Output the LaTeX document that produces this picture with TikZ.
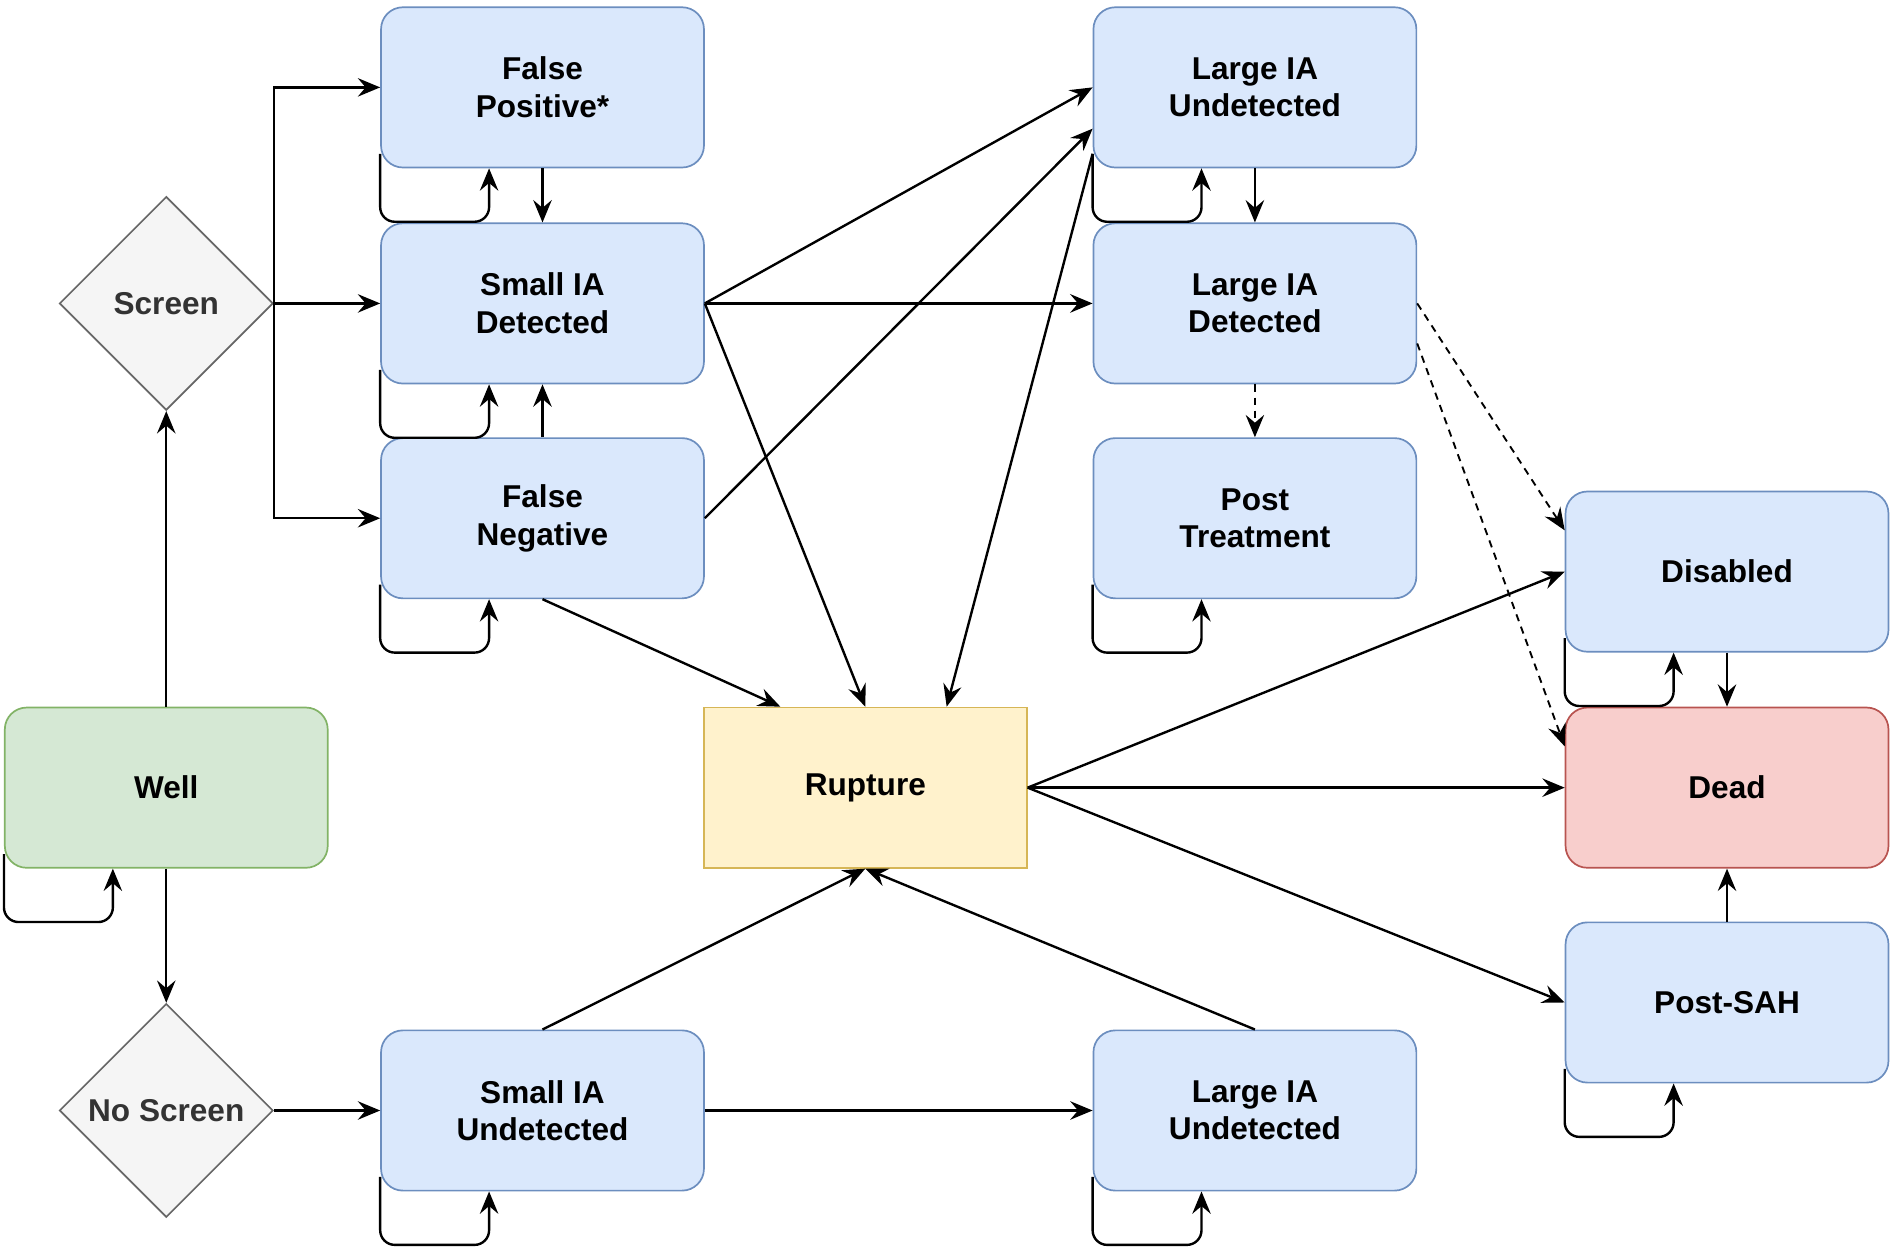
\documentclass[tikz,border=0pt]{standalone}
\usepackage{fontspec}
\setmainfont{Liberation Sans}
\usetikzlibrary{shapes.geometric,arrows.meta}

\definecolor{blueFill}{HTML}{DAE8FC}
\definecolor{blueLine}{HTML}{6C8EBF}
\definecolor{greenFill}{HTML}{D5E8D4}
\definecolor{greenLine}{HTML}{82B366}
\definecolor{redFill}{HTML}{F8CECC}
\definecolor{redLine}{HTML}{B85450}
\definecolor{yellowFill}{HTML}{FFF2CC}
\definecolor{yellowLine}{HTML}{D6B656}
\definecolor{grayFill}{HTML}{F5F5F5}
\definecolor{grayLine}{HTML}{666666}
\definecolor{grayText}{HTML}{333333}

\begin{document}
\begin{tikzpicture}[x=0.025cm, y=-0.025cm,
  state/.style={draw=blueLine, fill=blueFill, rounded corners=4.5mm, line width=1pt,
    minimum width=6.65cm, minimum height=3.3cm, align=center,
    font=\fontsize{18.5}{22}\selectfont\bfseries},
  choice/.style={diamond, draw=grayLine, fill=grayFill, text=grayText, line width=1pt,
    minimum width=4.4cm, minimum height=4.4cm, inner sep=0pt,
    font=\fontsize{18.5}{22}\selectfont\bfseries},
  arr/.style={-{Stealth[length=4.6mm,width=3.8mm,inset=1.6mm]}, line width=1.4pt},
  maybe/.style={arr, line width=1.1pt, dash pattern=on 1.5mm off 1.2mm},
  selfloop/.style={arr, rounded corners=3mm}]
  \useasboundingbox (0,0) rectangle (1568,1032);

  % states
  \node[state, draw=greenLine, fill=greenFill] (well) at (137,649) {Well};
  \node[choice] (screen) at (137,250) {Screen};
  \node[choice] (noscreen) at (137,915) {No Screen};

  \node[state] (fp)  at (447,72)  {False\\Positive*};
  \node[state] (sid) at (447,250) {Small IA\\Detected};
  \node[state] (fn)  at (447,427) {False\\Negative};
  \node[state] (siu) at (447,915) {Small IA\\Undetected};

  \node[state] (lut) at (1034,72)  {Large IA\\Undetected};
  \node[state] (lid) at (1034,250) {Large IA\\Detected};
  \node[state] (pt)  at (1034,427) {Post\\Treatment};
  \node[state] (lub) at (1034,915) {Large IA\\Undetected};

  \node[state, rounded corners=0pt, draw=yellowLine, fill=yellowFill] (rup) at (713,649) {Rupture};

  \node[state] (dis)  at (1423,471) {Disabled};
  \node[state, draw=redLine, fill=redFill] (dead) at (1423,649) {Dead};
  \node[state] (psah) at (1423,826) {Post-SAH};

  % screening branch
  \draw[arr] (well.north) -- (screen.south);
  \draw[arr] (well.south) -- (noscreen.north);
  \draw[arr] (screen.east) |- (fp.west);
  \draw[arr] (screen.east) -- (sid.west);
  \draw[arr] (screen.east) |- (fn.west);
  \draw[arr] (noscreen.east) -- (siu.west);

  \draw[arr] (fp.south) -- (sid.north);
  \draw[arr] (fn.north) -- (sid.south);
  \draw[arr, line width=2pt] (sid.east) -- (lid.west);
  \draw[arr] (sid.east) -- (lut.west);
  \draw[arr] (fn.east) -- ([yshift=-8.5mm]lut.west);
  \draw[arr] (lut.south) -- (lid.north);
  \draw[arr] (siu.east) -- (lub.west);

  % into rupture
  \draw[arr] (sid.east) -- (rup.north);
  \draw[arr] ([yshift=3mm]lut.south west) -- ([xshift=16.75mm]rup.north);
  \draw[arr] (fn.south) -- ([xshift=-17.5mm]rup.north);
  \draw[arr] (siu.north) -- (rup.south);
  \draw[arr] (lub.north) -- (rup.south);

  % treatment and outcomes
  \draw[maybe] (lid.south) -- (pt.north);
  \draw[maybe] (lid.east) -- ([yshift=8.5mm]dis.west);
  \draw[maybe] ([yshift=-8.25mm]lid.east) -- ([yshift=8.5mm]dead.west);
  \draw[arr] (rup.east) -- (dis.west);
  \draw[arr] (rup.east) -- (dead.west);
  \draw[arr] (rup.east) -- (psah.west);
  \draw[arr] (dis.south) -- (dead.north);
  \draw[arr] (psah.north) -- (dead.south);

  % stay in the same state
  \draw[selfloop] ([yshift=3mm]well.south west) |- ([xshift=-11mm,yshift=-11mm]well.south) -- ([xshift=-11mm]well.south);
  \draw[selfloop] ([yshift=3mm]fp.south west) |- ([xshift=-11mm,yshift=-11mm]fp.south) -- ([xshift=-11mm]fp.south);
  \draw[selfloop] ([yshift=3mm]sid.south west) |- ([xshift=-11mm,yshift=-11mm]sid.south) -- ([xshift=-11mm]sid.south);
  \draw[selfloop] ([yshift=3mm]fn.south west) |- ([xshift=-11mm,yshift=-11mm]fn.south) -- ([xshift=-11mm]fn.south);
  \draw[selfloop] ([yshift=3mm]siu.south west) |- ([xshift=-11mm,yshift=-11mm]siu.south) -- ([xshift=-11mm]siu.south);
  \draw[selfloop] ([yshift=3mm]lut.south west) |- ([xshift=-11mm,yshift=-11mm]lut.south) -- ([xshift=-11mm]lut.south);
  \draw[selfloop] ([yshift=3mm]pt.south west) |- ([xshift=-11mm,yshift=-11mm]pt.south) -- ([xshift=-11mm]pt.south);
  \draw[selfloop] ([yshift=3mm]lub.south west) |- ([xshift=-11mm,yshift=-11mm]lub.south) -- ([xshift=-11mm]lub.south);
  \draw[selfloop] ([yshift=3mm]dis.south west) |- ([xshift=-11mm,yshift=-11mm]dis.south) -- ([xshift=-11mm]dis.south);
  \draw[selfloop] ([yshift=3mm]psah.south west) |- ([xshift=-11mm,yshift=-11mm]psah.south) -- ([xshift=-11mm]psah.south);
\end{tikzpicture}
\end{document}
